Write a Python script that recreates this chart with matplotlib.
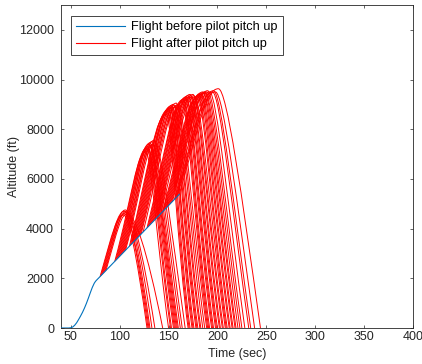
import numpy as np
import matplotlib
matplotlib.use('Agg')
import matplotlib.pyplot as plt
from matplotlib.path import Path
from matplotlib.patches import PathPatch
from matplotlib.lines import Line2D

# flight before the pilot pitches up (time in sec, altitude in ft)
before_time = [40, 48, 50, 52, 54, 56, 58, 60, 62, 64, 66, 68, 70, 72, 74, 75, 76, 78, 80,
               100, 120, 140, 161]
before_alt = [0, 0, 10, 40, 110, 210, 340, 480, 630, 800, 990, 1200, 1420, 1630, 1800, 1860,
              1910, 1990, 2070, 2886, 3700, 4520, 5380]

# flights after pitch up: branch time, time of apex, apex altitude, time on ground, climb rate
branch_time = [80, 81, 82, 83, 84, 85, 86,
               95, 96, 97, 98, 99, 100, 101, 102, 103, 104, 105, 106,
               110, 111, 112, 113, 114, 115, 116, 117, 118, 119, 120, 121, 122, 124,
               128, 129, 130, 131, 132, 133, 134, 135, 136, 137, 138, 139, 140, 142,
               144, 145, 146, 147, 148, 149, 150, 151, 152, 153, 154, 156,
               157, 158, 159, 161]
apex_time = [104, 105, 105, 106, 107, 107, 108,
             127, 128, 129, 129, 130, 131, 131, 132, 133, 134, 135, 136,
             148, 149, 150, 151, 152, 152, 153, 154, 155, 156, 157, 158, 159, 160,
             164, 165, 166, 167, 168, 169, 170, 171, 172, 173, 174, 175, 176, 177,
             180, 181, 182, 183, 184, 185, 186, 187, 188, 189, 190, 192,
             195, 196, 198, 201]
apex_alt = [4550, 4700, 4600, 4750, 4650, 4700, 4600,
            7100, 7250, 7300, 7200, 7400, 7350, 7450, 7300, 7500, 7400, 7550, 7450,
            8600, 8700, 8800, 8750, 8900, 8850, 8950, 8900, 9000, 8950, 8900, 9050, 8950, 9000,
            9100, 9200, 9150, 9250, 9300, 9200, 9350, 9300, 9400, 9350, 9300, 9400, 9350, 9300,
            9300, 9350, 9400, 9450, 9400, 9500, 9450, 9500, 9450, 9500, 9550, 9500,
            9500, 9550, 9500, 9630]
ground_time = [128, 129, 130, 131, 133, 136, 144,
               150, 152, 153, 155, 156, 157, 158, 159, 160, 162, 164, 167,
               170, 171, 172, 174, 175, 176, 178, 179, 180, 182, 183, 185, 187, 189,
               190, 191, 192, 194, 195, 196, 198, 199, 200, 202, 203, 205, 206, 208,
               209, 210, 212, 213, 215, 216, 218, 219, 221, 223, 225, 228,
               232, 234, 238, 244]
climb_rate = [138] * 7 + [145] * 12 + [160] * 14 + [160] * 14 + [150] * 12 + [140] * 4
sink_rate = 280

blue = (0, 0.447, 0.741)
axis_gray = (0.15, 0.15, 0.15)

plt.rcParams['font.family'] = ['Liberation Sans', 'DejaVu Sans']
plt.rcParams['font.size'] = 9

fig = plt.figure(figsize=(4.22, 3.64), dpi=100)
ax = fig.add_axes([0.1445, 0.0989, 0.8342, 0.8874])

for t0, tp, hp, te, climb in zip(branch_time, apex_time, apex_alt, ground_time, climb_rate):
    h0 = np.interp(t0, before_time, before_alt)
    rise = tp - t0
    fall = te - tp
    c1 = min(0.55 * rise * climb, 0.8 * (hp - h0))
    c2 = min(0.45 * fall * sink_rate, 0.7 * hp)
    verts = [(t0, h0), (t0 + 0.55 * rise, h0 + c1), (tp - 0.3 * rise, hp), (tp, hp),
             (tp + 0.2 * fall, hp), (te - 0.45 * fall, c2), (te, 0)]
    codes = [Path.MOVETO] + [Path.CURVE4] * 6
    ax.add_patch(PathPatch(Path(verts, codes), fill=False, edgecolor='r', lw=0.7, zorder=2))

ax.plot(before_time, before_alt, color=blue, lw=0.8, zorder=3)

ax.set_xlim(40, 400)
ax.set_ylim(0, 13000)
ax.set_xticks(np.arange(50, 401, 50))
ax.set_yticks(np.arange(0, 12001, 2000))
ax.tick_params(direction='in', top=True, right=True, length=2.5, width=0.5,
               colors=axis_gray, labelsize=9)
ax.tick_params(axis='x', pad=2.5)
ax.tick_params(axis='y', pad=5)
for s in ax.spines.values():
    s.set_color(axis_gray)
    s.set_linewidth(0.6)

ax.set_xlabel('Time (sec)', color=axis_gray, labelpad=3.5)
ax.set_ylabel('Altitude (ft)', color=axis_gray, labelpad=-1)

handles = [Line2D([], [], color=blue, lw=0.8), Line2D([], [], color='r', lw=0.8)]
leg = ax.legend(handles, ['Flight before pilot pitch up', 'Flight after pilot pitch up'],
                loc='upper left', bbox_to_anchor=(0.028, 0.966), fancybox=False,
                framealpha=1, edgecolor=axis_gray, handlelength=3.8, handletextpad=0.5,
                labelspacing=0.4, borderpad=0.4, borderaxespad=0, fontsize=9.2)
leg.get_frame().set_linewidth(0.6)

fig.savefig('out.png', dpi=100)
